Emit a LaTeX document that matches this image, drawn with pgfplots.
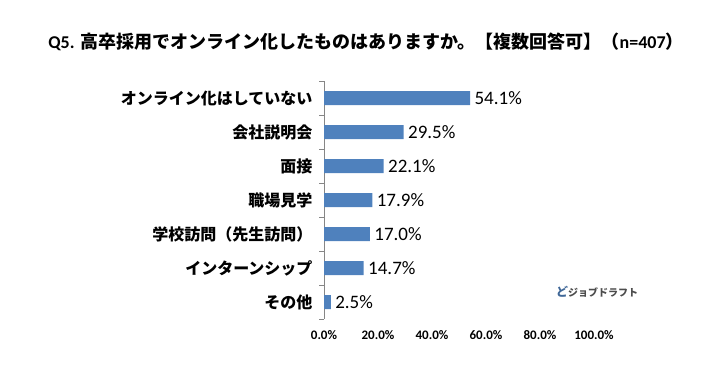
\documentclass[border=0pt]{standalone}
\usepackage{pgfplots}
\pgfplotsset{compat=1.18}
\usepackage{fontspec}
\setmainfont{Carlito}
\newfontfamily\jp{Noto Sans CJK JP}
\definecolor{barblue}{HTML}{4F81BD}
\definecolor{axgray}{HTML}{868686}
\pgfplotstableread{
idx val
0 54.1
1 29.5
2 22.1
3 17.9
4 17.0
5 14.7
6 2.5
}\datatable
\begin{document}
\begin{tikzpicture}
\path[use as bounding box] (0,0) rectangle (715bp,368bp);
\begin{axis}[
  at={(324bp,49bp)}, anchor=south west,
  scale only axis, width=270bp, height=238bp,
  /pgf/number format/assume math mode=true,
  xbar, bar width=14bp,
  xmin=0, xmax=100,
  ymin=-0.5, ymax=6.5, y dir=reverse,
  axis x line*=bottom, axis y line*=left,
  axis line style={-},
  x axis line style={draw=none},
  y axis line style={draw=axgray, line width=0.7pt},
  xtick={0,20,40,60,80,100},
  xticklabels={0.0\%,20.0\%,40.0\%,60.0\%,80.0\%,100.0\%},
  xtick style={draw=none},
  xticklabel style={font=\fontsize{13bp}{15bp}\selectfont\bfseries, yshift=-3bp},
  ytick={-0.5,0.5,1.5,2.5,3.5,4.5,5.5,6.5},
  y tick label as interval,
  yticklabels={オンライン化はしていない,会社説明会,面接,職場見学,学校訪問（先生訪問）,インターンシップ,その他},
  yticklabel style={font=\jp\fontsize{16bp}{18bp}\selectfont\bfseries, anchor=east, xshift=-3bp},
  ytick style={draw=axgray, line width=0.7pt},
  major tick length=5bp,
  tick align=outside,
  nodes near coords={\pgfmathprintnumber[fixed,fixed zerofill,precision=1,assume math mode=true]{\pgfplotspointmeta}\%},
  point meta=x,
  every node near coord/.append style={font=\fontsize{19bp}{21bp}\selectfont, anchor=west, xshift=1bp, black},
  clip=false,
]
\addplot[fill=barblue, draw=none] table[x=val, y=idx] {\datatable};
\end{axis}
\node[font=\bfseries\fontsize{18bp}{21bp}\selectfont] at (366bp,326bp)
  {Q5. {\jp 高卒採用でオンライン化したものはありますか。【複数回答可】（}n=407{\jp ）}};
\node[anchor=west, inner sep=0pt] at (556bp,76bp)
  {{\jp\bfseries\fontsize{12bp}{12bp}\selectfont\color{barblue!80!black}ど}{\jp\bfseries\fontsize{10bp}{12bp}\selectfont\color{black!70} ジョブドラフト}};
\end{tikzpicture}
\end{document}
